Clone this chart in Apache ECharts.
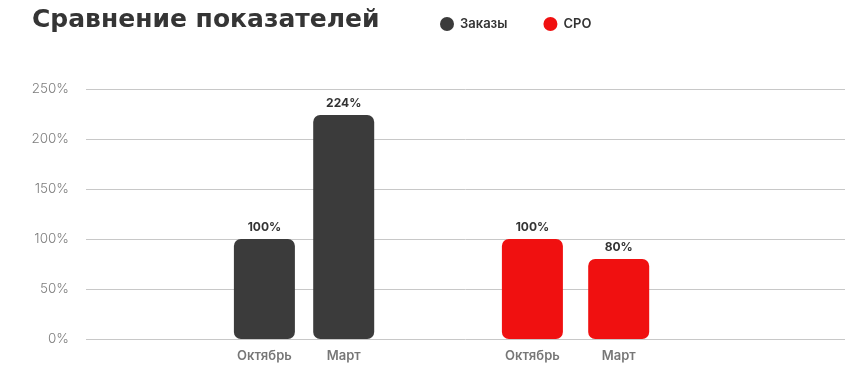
<!DOCTYPE html>
<html><head><meta charset="utf-8">
<script src="https://cdn.jsdelivr.net/npm/echarts@6/dist/echarts.min.js"></script>
<style>html,body{margin:0;padding:0;background:#fff}#c{width:858px;height:382px}</style>
</head><body><div id="c"></div>
<script>
const title = 'Сравнение показателей';
const months = ['Октябрь', 'Март'];
const seriesNames = ['Заказы', 'CPO'];
const ordersValues = [100, 224];
const cpoValues = [100, 80];
const yTicks = [0, 50, 100, 150, 200, 250];

const FONT = 'Inter, "Noto Sans", sans-serif';
const chart = echarts.init(document.getElementById('c'), null, {renderer: 'canvas'});
const yMin = yTicks[0], yMax = yTicks[yTicks.length - 1], yStep = yTicks[1] - yTicks[0];
const hiddenY = {type: 'value', min: yMin, max: yMax, interval: yStep, show: false};
const catAxis = (gi) => ({
  type: 'category', gridIndex: gi, data: months,
  axisLine: {show: false}, axisTick: {show: false},
  axisLabel: {margin: 11, color: '#777', fontSize: 13, fontWeight: 600, fontFamily: FONT}
});
const labelStyle = {show: true, position: 'top', distance: 6, color: '#333', fontSize: 12, fontWeight: 700, fontFamily: FONT, formatter: p => p.value + '%'};

chart.setOption({
  animation: false,
  title: {text: title, left: 27, top: 3, textStyle: {fontFamily: '"DejaVu Sans", sans-serif', fontSize: 25, fontWeight: 700, color: '#353535'}},
  legend: {
    data: seriesNames, left: 435, top: 12, icon: 'circle', itemWidth: 14, itemHeight: 14, itemGap: 36,
    textStyle: {fontFamily: FONT, fontSize: 13, fontWeight: 600, color: '#333', padding: [0, 0, 0, 1]}
  },
  grid: [
    {left: 86, right: 13, top: 89, bottom: 43},
    {left: 224.75, width: 158.6, top: 89, bottom: 43},
    {left: 489.25, width: 172.6, top: 89, bottom: 43}
  ],
  xAxis: [
    {type: 'category', gridIndex: 0, data: [''], show: false},
    catAxis(1), catAxis(2)
  ],
  yAxis: [
    {type: 'value', gridIndex: 0, min: yMin, max: yMax, interval: yStep,
     axisLine: {show: false}, axisTick: {show: false},
     axisLabel: {margin: 17, color: '#7d7d7d', fontSize: 13.5, fontWeight: 300, fontFamily: FONT, formatter: v => v + '%'},
     splitLine: {lineStyle: {color: '#c8c8c8', width: 1}}},
    Object.assign({gridIndex: 1}, hiddenY),
    Object.assign({gridIndex: 2}, hiddenY)
  ],
  series: [
    {name: seriesNames[0], type: 'bar', xAxisIndex: 1, yAxisIndex: 1, data: ordersValues, barWidth: 61,
     itemStyle: {color: '#3b3b3b', borderRadius: 7}, label: labelStyle},
    {name: seriesNames[1], type: 'bar', xAxisIndex: 2, yAxisIndex: 2, data: cpoValues, barWidth: 61,
     itemStyle: {color: '#f01010', borderRadius: 7}, label: labelStyle}
  ]
});
</script></body></html>
